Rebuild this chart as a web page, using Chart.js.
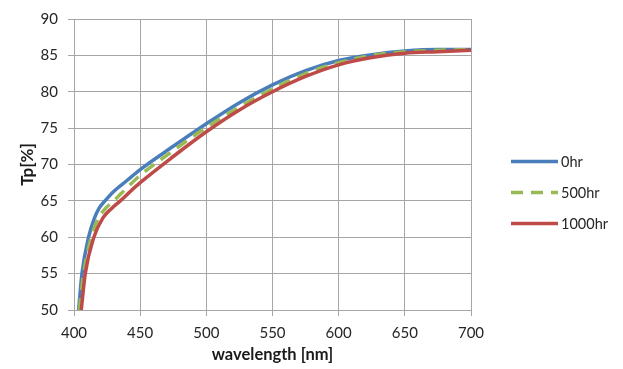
<!DOCTYPE html>
<html>
<head>
<meta charset="utf-8">
<script src="https://cdn.jsdelivr.net/npm/chart.js@4/dist/chart.umd.min.js"></script>
<style>
html,body{margin:0;padding:0;background:#fff;}
#wrap{width:623px;height:369px;}
</style>
</head>
<body>
<div id="wrap"><canvas id="c" width="623" height="369"></canvas></div>
<script>
// Data
const seriesLabels = ['0hr', '500hr', '1000hr'];
const xTicks = [400, 450, 500, 550, 600, 650, 700];
const yTicks = [50, 55, 60, 65, 70, 75, 80, 85, 90];

const wl0 = [403.5, 406, 411, 415.6, 419, 423.4, 430, 440, 450, 475, 500, 525, 550, 575, 600, 625, 650, 675, 700];
const tp0 = [50, 55, 60, 62.7, 64.0, 65.0, 66.3, 67.8, 69.3, 72.5, 75.6, 78.5, 80.95, 82.9, 84.3, 85.1, 85.6, 85.8, 85.8];

const wl500 = [404, 407.3, 413, 418.7, 424, 430, 440, 450, 475, 500, 525, 550, 575, 600, 625, 650, 675, 700];
const tp500 = [50, 55, 60, 62.7, 64.0, 65.0, 66.8, 68.5, 71.9, 75.1, 77.9, 80.4, 82.5, 84.0, 85.0, 85.5, 85.7, 85.8];

const wl1000 = [405.5, 408.5, 415, 422, 428, 435, 442, 450, 475, 500, 525, 550, 575, 600, 625, 650, 675, 700];
const tp1000 = [50, 55, 60, 62.7, 63.9, 65.0, 66.2, 67.5, 71.1, 74.5, 77.5, 80.0, 82.1, 83.7, 84.7, 85.3, 85.5, 85.7];

const colors = ['#4a7ebb', '#98b954', '#be4b48'];
const dashes = [[], [12, 8], []];

function pts(xs, ys) { return xs.map((x, i) => ({x: x, y: ys[i]})); }

const FONT = 'Lato, "Open Sans", sans-serif';
const GRID = '#a6a6a6';

const legendPlugin = {
  id: 'xlLegend',
  afterDraw(chart) {
    const ctx = chart.ctx;
    ctx.save();
    const rowY = [161.5, 192.5, 223.5];
    chart.data.datasets.forEach((ds, i) => {
      const y = rowY[i];
      ctx.strokeStyle = ds.borderColor;
      ctx.lineWidth = ds.borderWidth;
      ctx.setLineDash(ds.borderDash || []);
      ctx.lineCap = 'butt';
      ctx.beginPath();
      ctx.moveTo(511, y);
      ctx.lineTo(558, y);
      ctx.stroke();
      ctx.setLineDash([]);
      ctx.fillStyle = '#262626';
      ctx.font = '14.5px ' + FONT;
      ctx.textBaseline = 'middle';
      ctx.textAlign = 'left';
      ctx.fillText(ds.label, 561, y + 1);
    });
    ctx.restore();
  }
};

new Chart(document.getElementById('c'), {
  type: 'line',
  data: {
    datasets: [
      {label: seriesLabels[0], data: pts(wl0, tp0), borderColor: colors[0], borderWidth: 3.5, borderDash: dashes[0], order: 3},
      {label: seriesLabels[1], data: pts(wl500, tp500), borderColor: colors[1], borderWidth: 3.5, borderDash: dashes[1], order: 2},
      {label: seriesLabels[2], data: pts(wl1000, tp1000), borderColor: colors[2], borderWidth: 3.5, borderDash: dashes[2], order: 1}
    ].map(d => Object.assign(d, {pointRadius: 0, fill: false, cubicInterpolationMode: 'monotone'}))
  },
  options: {
    responsive: false,
    animation: false,
    layout: {padding: {top: 15, right: 152, left: 0, bottom: 0}},
    plugins: {legend: {display: false}, tooltip: {enabled: false}},
    scales: {
      x: {
        type: 'linear', min: 400, max: 700,
        afterBuildTicks: s => { s.ticks = xTicks.map(v => ({value: v})); },
        afterFit: s => { s.height = 59; },
        grid: {color: GRID, lineWidth: 1, tickLength: 6, drawTicks: true},
        border: {color: GRID, width: 1},
        ticks: {color: '#262626', font: {family: FONT, size: 15}, padding: 8, maxRotation: 0},
        title: {display: true, text: 'wavelength [nm]', color: '#1a1a1a', font: {family: FONT, size: 16.5, weight: 'bold'}, padding: {top: 0, bottom: 4}}
      },
      y: {
        type: 'linear', min: 50, max: 90,
        afterBuildTicks: s => { s.ticks = yTicks.map(v => ({value: v})); },
        afterFit: s => { s.width = 74; },
        grid: {color: GRID, lineWidth: 1, tickLength: 6, drawTicks: true},
        border: {color: GRID, width: 1},
        ticks: {color: '#262626', font: {family: FONT, size: 15}, padding: 10},
        title: {display: true, text: 'Tp[%]', color: '#1a1a1a', font: {family: FONT, size: 17, weight: 'bold'}, padding: {top: 17, bottom: 0}}
      }
    }
  },
  plugins: [legendPlugin]
});
</script>
</body>
</html>
